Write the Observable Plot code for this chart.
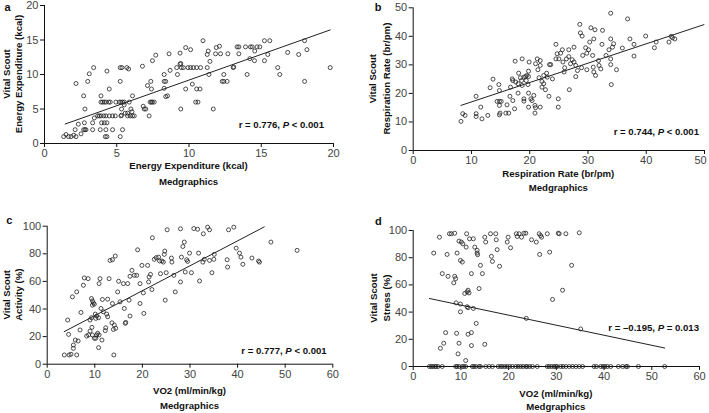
<!DOCTYPE html>
<html>
<head>
<meta charset="utf-8">
<script src="https://cdn.jsdelivr.net/npm/d3@7"></script>
<script src="https://cdn.jsdelivr.net/npm/@observablehq/plot@0.6"></script>
<style>
  body { margin: 0; background: #fff; }
  #wrap { position: relative; width: 709px; height: 413px; overflow: hidden; background: #fff; }
  #wrap svg { position: absolute; overflow: visible; }
  #wrap g[aria-label$="tick label"] { fill: #444; }
</style>
</head>
<body>
<div id="wrap"></div>
<script>
// ---------- DATA ----------
// Panel a: Energy Expenditure (kcal) — Medgraphics (x) vs Vital Scout (y)
const energyPoints = [
  [1.33,1],[1.49,1.3],[1.66,1],[1.84,1],[2.02,1.2],[2.18,1],[2.53,1.4],[4.21,1],[4.32,1],[5.24,1],
  [2.12,2],[2.71,2],[2.8,2],[2.87,2],[3.33,2],[3.86,2],[4.25,2],[4.71,2],[5.4,2],
  [2.34,2.8],[2.76,3],[3.33,3],[3.95,3],[4.14,3],[4.32,3],
  [3.45,3.7],[3.68,4],[3.79,4],[3.91,4],[4.09,4],[4.25,4],[4.48,4],[4.71,4],[4.9,4],[5.29,4],[5.75,4],[5.93,4],[6.09,4],[6.21,4],[7.24,4],[5.33,4.1],[5.59,4.4],[5.75,4.4],[6.05,4.6],
  [2.8,5],[5.33,5],[5.98,5],[6.9,5],[7.01,5],[9.43,5],[11.68,5],
  [3.91,6],[4.02,6],[4.14,6],[4.25,6],[4.44,6],[4.55,6],[4.94,6],[5.17,6],[5.29,6],[5.4,6],[5.52,6],[5.86,6],[7.31,6],[7.4,6],[7.47,6],[7.59,6],[10.46,6],[10.62,6],[5.52,5.6],[6.83,5.4],
  [2.71,6.9],[3.91,6.9],[6.09,6.9],[8.39,6.8],[8.51,6.9],
  [4.48,7.9],[7.13,8.4],[7.4,7.9],[8.28,8],[9.77,7.9],[10.23,8.6],[10.53,7.9],[10.76,7.9],
  [2.18,8.7],[2.99,9],[5.24,9],[7.36,9],[8.28,9],[8.39,9],[12.3,9],[12.41,9],[12.64,9],[18.0,9],
  [3.1,10.1],[8.28,10],[9.2,10],[11.38,10],[12.41,10],[14.02,10],[16.28,10],
  [3.4,11],[4.32,10.5],[5.24,11],[5.36,11],[5.7,11],[5.82,10.8],[6.78,11.2],[8.69,10.6],[9.15,11],[9.38,11.5],[9.47,11],[9.61,11],[9.93,11],[10.11,11],[10.3,11],[10.53,11],[10.8,11],[11.26,11],[13.06,11],[13.1,11.1],[16.14,11],[19.77,11],
  [7.47,12],[9.43,11.6],[11.45,11.9],[14.21,12.3],[14.53,12],[15.22,12],
  [7.7,12.8],[8.62,13],[9.38,13.1],[11.26,12.9],[11.33,13.4],[11.84,13],[12.18,13],[12.69,13],[13.45,13],[14.55,13.4],[15.45,12.9],[16.83,13.2],[17.59,12.9],[18.16,13.6],
  [9.77,13.9],[10.11,13.6],[11.89,13.9],[12.11,14.1],[13.33,14],[13.45,14],[13.91,14],[14.25,14],[14.37,14],[14.71,14],[14.9,14],
  [10.97,14.9],[15.22,14.9],[15.59,14.9],[18.0,14.9]
];
const energyFitX = [1.43, 19.77];
const energyFitY = [2.82, 16.46];
const energyTicks = [0, 5, 10, 15, 20];

// Panel b: Respiration Rate (br/pm)
const respPoints = [
  [8.2,10.2],[8.5,12.9],[8.9,12.3],[10.8,19.0],[10.8,12.9],[10.8,11.9],[11.6,15.2],[11.8,11.1],[12.8,12.3],[13.2,22.0],
  [13.7,25.0],[14.7,23.1],[14.8,21.0],[14.4,17.2],[14.8,17.2],[15.1,17.2],[14.8,15.8],[14.8,12.5],[14.9,13.1],[15.9,13.1],
  [16.4,13.1],[16.1,16.0],[16.7,22.2],[16.6,19.0],[17.0,25.1],[17.1,24.5],[17.1,17.5],[17.4,14.6],[17.5,31.3],[17.6,24.0],
  [18.0,23.4],[18.0,20.1],[18.1,27.1],[18.4,25.5],[18.6,24.5],[18.7,22.8],[18.7,32.1],[19.0,18.1],[19.0,17.3],[19.0,25.7],
  [19.3,25.9],[19.5,26.3],[19.8,25.9],[19.4,24.5],[19.7,23.1],[19.8,27.8],[19.9,31.0],[19.8,20.1],[19.8,15.2],[20.2,18.1],
  [20.4,17.5],[20.7,19.3],[20.9,15.8],[21.0,15.0],[20.9,13.1],[21.0,30.4],[21.3,32.1],[21.4,28.3],[21.6,25.5],[21.8,31.5],
  [21.8,29.8],[21.8,15.2],[22.1,24.2],[22.1,22.2],[22.4,26.3],[22.4,23.4],[22.7,21.3],[22.9,27.1],[23.0,25.7],[23.4,30.1],
  [23.6,30.1],[23.3,19.0],[23.9,25.1],[24.5,37.2],[24.5,32.1],[24.7,33.9],[24.9,18.1],[24.9,15.2],[25.0,32.1],[25.3,34.1],
  [25.6,35.3],[25.7,31.0],[25.9,27.5],[26.0,29.0],[26.3,32.1],[26.7,32.9],[26.8,21.3],[26.7,35.3],[27.0,30.4],[27.3,31.8],
  [27.6,31.0],[27.9,29.8],[27.6,36.2],[27.9,25.9],[28.2,28.0],[28.6,44.2],[28.7,41.2],[29.0,40.1],[28.9,29.0],[29.1,33.3],
  [29.6,36.0],[29.8,34.1],[29.8,28.3],[30.1,35.3],[30.3,38.0],[30.5,43.0],[30.8,33.3],[30.9,29.2],[31.0,39.1],[31.0,27.5],
  [31.3,26.3],[31.2,42.3],[31.8,31.5],[31.9,29.8],[32.2,28.6],[32.4,37.2],[32.5,42.1],[33.1,33.3],[33.6,35.3],[33.9,48.1],
  [33.9,39.1],[33.9,32.1],[33.9,30.1],[34.0,23.1],[34.2,36.2],[34.4,37.4],[34.9,28.3],[35.9,35.9],[36.8,46.1],[37.2,39.1],
  [37.9,37.2],[37.9,33.1],[39.9,40.1],[41.4,36.0],[41.7,38.0],[43.9,38.0],[44.3,40.0],[44.5,39.5],[44.9,39.1]
];
const respFitX = [8.2, 49.9];
const respFitY = [15.8, 44.1];
const respTicks = [0, 10, 20, 30, 40, 50];

// Panel c: VO2 (ml/min/kg) vs Activity (%)
const activityPoints = [
  [3.6,6.7],[4.6,6.7],[5.0,7.2],[6.2,6.7],[4.5,21.6],[4.3,32.0],[5.3,48.8],[6.2,52.4],[6.9,24.8],[6.5,16.8],
  [5.9,17.5],[5.5,13.9],[5.5,11.5],[7.6,57.2],[7.8,62.5],[8.6,62.0],[7.1,37.5],[8.3,20.4],[8.7,21.2],[9.0,24.0],
  [9.3,47.6],[9.5,45.9],[9.7,44.5],[9.9,43.5],[9.5,42.8],[9.0,32.0],[9.3,33.7],[9.4,26.7],[9.5,21.2],[9.9,18.8],
  [10.2,18.8],[10.4,21.2],[10.1,36.3],[10.2,33.2],[10.4,34.9],[10.8,33.7],[10.6,22.4],[10.9,21.2],[10.8,12.0],[10.9,58.4],
  [11.1,62.0],[11.3,40.4],[11.5,17.5],[11.6,46.9],[11.8,38.0],[12.2,24.3],[12.3,26.4],[12.5,36.3],[12.7,34.4],[12.7,47.1],
  [13.0,62.0],[13.2,75.2],[13.7,75.7],[14.3,78.4],[13.6,30.0],[13.7,44.0],[13.9,25.2],[14.1,28.4],[14.0,6.7],[14.4,26.0],
  [14.8,52.4],[15.0,60.1],[15.3,45.2],[16.0,58.4],[16.2,40.4],[16.4,29.6],[16.5,30.3],[16.9,58.4],[17.4,63.7],[17.2,46.4],
  [17.4,34.9],[17.8,68.0],[18.3,64.4],[18.8,64.4],[19.0,82.9],[19.5,58.4],[19.5,44.0],[19.9,71.6],[20.2,51.7],[20.3,36.8],
  [21.1,71.6],[21.3,59.6],[21.4,63.2],[21.7,65.1],[22.0,54.1],[22.1,91.6],[22.5,76.0],[22.9,77.2],[23.4,77.6],[23.6,74.8],
  [23.8,65.6],[24.1,74.8],[24.4,74.0],[24.6,79.6],[24.7,82.0],[24.8,46.4],[25.0,66.3],[25.2,97.4],[26.1,76.9],[26.2,74.0],
  [26.6,64.4],[26.9,52.4],[28.0,59.6],[28.0,98.1],[28.2,77.6],[28.5,85.3],[28.8,88.5],[29.0,66.8],[29.3,75.7],[29.5,74.5],
  [29.9,80.5],[30.3,66.3],[30.8,98.3],[31.6,97.8],[31.8,80.5],[32.0,60.3],[32.7,74.0],[32.8,94.5],[33.0,76.0],[33.7,99.3],
  [34.1,97.4],[34.1,75.2],[34.6,66.3],[35.0,76.0],[35.1,79.6],[37.8,75.7],[37.9,70.4],[38.1,97.4],[39.2,99.3],[39.7,84.1],
  [40.4,80.5],[40.7,77.6],[41.1,72.4],[43.0,76.9],[44.4,74.8],[44.6,74.0],[47.0,88.5],[52.5,82.5]
];
const activityFitX = [3.57, 45.6];
const activityFitY = [23.6, 99.5];

// Panel d: VO2 (ml/min/kg) vs Stress (%)
const stressPoints = [
  [4.3,83.4],[5.5,95.1],[7.1,82.4],[7.6,97.6],[8.0,97.6],[8.7,98.0],[9.2,83.4],[9.6,92.2],[10.1,91.5],[10.4,90.2],
  [11.2,97.6],[11.1,87.8],[11.8,93.9],[12.6,93.9],[12.9,87.8],[13.4,85.4],[13.4,83.4],[13.5,82.2],[9.9,78.0],[10.3,76.8],
  [6.1,68.3],[7.3,66.3],[8.7,66.3],[8.9,64.6],[8.5,61.5],[12.2,68.3],[14.1,74.4],[14.5,68.3],[15.0,95.1],[15.2,91.5],
  [16.2,97.6],[16.4,81.0],[16.6,77.3],[17.3,97.6],[17.4,93.2],[17.6,85.9],[18.1,73.7],[19.7,91.5],[19.9,95.1],[20.4,87.3],
  [21.6,97.6],[21.8,95.6],[22.2,97.6],[22.7,95.1],[23.2,98.0],[23.6,98.0],[24.8,93.2],[25.8,91.5],[26.4,97.6],[26.5,82.4],
  [26.7,96.3],[26.9,95.1],[28.1,97.6],[28.6,84.1],[30.4,98.0],[30.6,97.6],[32.0,97.6],[33.2,74.4],[34.8,98.3],
  [10.8,53.7],[11.3,54.9],[11.5,56.1],[11.7,54.1],[13.8,57.3],[31.3,56.1],[29.2,49.3],
  [9.0,46.8],[9.9,45.9],[9.9,40.2],[11.3,43.9],[11.5,43.2],[12.6,42.7],[23.7,35.4],[35.1,27.6],[13.2,31.7],[6.8,24.9],
  [9.1,24.4],[11.5,23.7],[12.2,24.9],[6.4,17.1],[5.7,13.4],[9.6,17.1],[12.2,15.4],[15.0,16.3],[9.4,9.3],[11.0,4.4],
  [3.4,0],[3.8,0],[4.1,0],[4.5,0],[4.8,0],[5.2,0],[6.1,0],[8.9,0],[9.2,0],[9.6,0],[10.3,0],[10.6,0],[11.0,0],[12.4,0],
  [12.7,0],[13.1,0],[13.8,0],[14.1,0],[15.2,0],[15.9,0],[16.6,0],[17.8,0],[18.3,0],[18.7,0],[19.2,0],[19.7,0],[20.2,0],
  [20.8,0],[21.5,0],[22.0,0],[22.5,0],[23.0,0],[23.6,0],[23.9,0],[24.4,0],[25.0,0],[26.0,0],[28.1,0],[28.5,0],[29.0,0],
  [29.5,0],[29.9,0],[30.2,0],[30.9,0],[31.4,0],[32.0,0],[32.7,0],[33.4,0],[34.1,0],[34.8,0],[35.5,0],[37.9,0],[38.4,0],
  [39.3,0],[39.8,0],[40.2,0],[40.7,0],[41.4,0],[43.0,0],[43.9,0],[44.6,0],[44.9,0],[47.2,0],[52.7,0]
];
const stressFitX = [3.4, 52.7];
const stressFitY = [50.0, 13.6];

const vo2Ticks = [0, 10, 20, 30, 40, 50, 60];
const percentTicks = [0, 20, 40, 60, 80, 100];

// Text
const letters = ["a", "b", "c", "d"];
const yTitles = [
  ["Vital Scout", "Energy Expenditure (kcal)"],
  ["Vital Scout", "Respiration Rate (br/pm)"],
  ["Vital Scout", "Activity (%)"],
  ["Vital Scout", "Stress (%)"]
];
const xTitles = [
  ["Energy Expenditure (kcal)", "Medgraphics"],
  ["Respiration Rate (br/pm)", "Medgraphics"],
  ["VO2 (ml/min/kg)", "Medgraphics"],
  ["VO2 (ml/min/kg)", "Medgraphics"]
];
const stats = [
  ["r = 0.776, ", "P", " < 0.001"],
  ["r = 0.744, ", "P", " < 0.001"],
  ["r = 0.777, ", "P", " < 0.001"],
  ["r = \u20130.195, ", "P", " = 0.013"]
];

// ---------- DRAWING ----------
const FONT = '"Liberation Sans", Arial, Helvetica, sans-serif';
const wrap = document.getElementById("wrap");

function panel(cfg) {
  const pts = cfg.points.map(([x, y]) => ({x, y}));
  const fit = cfg.fitX.map((x, i) => ({x, y: cfg.fitY[i]}));
  const xd = [cfg.xTicks[0], cfg.xTicks[cfg.xTicks.length - 1]];
  const yd = [cfg.yTicks[0], cfg.yTicks[cfg.yTicks.length - 1]];
  const chart = Plot.plot({
    width: cfg.width, height: cfg.height,
    marginLeft: cfg.m[0], marginRight: cfg.m[1], marginTop: cfg.m[2], marginBottom: cfg.m[3],
    x: {domain: xd},
    y: {domain: yd},
    style: {fontFamily: FONT, fontSize: "11px", color: "#111", background: "transparent", overflow: "visible"},
    marks: [
      Plot.ruleX([xd[0]], {stroke: "#111", strokeWidth: 1}),
      Plot.ruleY([yd[0]], {stroke: "#111", strokeWidth: 1}),
      Plot.axisX({ticks: cfg.xTicks, tickSize: 4, tickPadding: 2, label: null, tickFormat: d => String(d)}),
      Plot.axisY({ticks: cfg.yTicks, tickSize: 4, tickPadding: 2, label: null, tickFormat: d => String(d)}),
      Plot.dot(pts, {x: "x", y: "y", r: 2, stroke: "#222", strokeWidth: 0.8, fill: "none"}),
      Plot.line(fit, {x: "x", y: "y", stroke: "#222", strokeWidth: 1})
    ]
  });
  chart.style.left = cfg.left + "px";
  chart.style.top = cfg.top + "px";
  const svg = d3.select(chart);
  if (cfg.lastXLabelDx) {
    const labels = svg.selectAll('g[aria-label="x-axis tick label"] text').nodes();
    if (labels.length) d3.select(labels[labels.length - 1]).attr("dx", cfg.lastXLabelDx);
  }
  const fx0 = cfg.m[0], fx1 = cfg.width - cfg.m[1];
  const fy0 = cfg.m[2], fy1 = cfg.height - cfg.m[3];
  const cx = (fx0 + fx1) / 2, cy = (fy0 + fy1) / 2;
  const bold = s => s.attr("font-family", FONT).attr("font-weight", "bold").attr("fill", "#111");

  bold(svg.append("text")).attr("x", cfg.letterPos[0]).attr("y", cfg.letterPos[1]).attr("dy", "0.35em")
    .attr("text-anchor", "middle").attr("font-size", 11).text(cfg.letter);

  cfg.yTitle.forEach((t, i) => {
    bold(svg.append("text")).attr("transform", `translate(${cfg.yTitleX[i]},${cy}) rotate(-90)`)
      .attr("dy", "0.35em").attr("text-anchor", "middle").attr("font-size", 9.6).text(t);
  });
  cfg.xTitle.forEach((t, i) => {
    bold(svg.append("text")).attr("x", cx).attr("y", cfg.xTitleY[i]).attr("dy", "0.35em")
      .attr("text-anchor", "middle").attr("font-size", 9.6).text(t);
  });
  const st = bold(svg.append("text")).attr("x", cfg.statPos[0]).attr("y", cfg.statPos[1]).attr("dy", "0.35em")
    .attr("text-anchor", "end").attr("font-size", 9.6);
  st.append("tspan").text(cfg.stat[0]);
  st.append("tspan").attr("font-style", "italic").text(cfg.stat[1]);
  st.append("tspan").text(cfg.stat[2]);
  wrap.appendChild(chart);
}

panel({
  left: 0, top: 0, width: 350, height: 200, m: [44, 17, 5, 57],
  points: energyPoints, fitX: energyFitX, fitY: energyFitY,
  xTicks: energyTicks, yTicks: energyTicks,
  letter: letters[0], letterPos: [7.5, 7], yTitle: yTitles[0], yTitleX: [7, 18.5],
  xTitle: xTitles[0], xTitleY: [166, 182], stat: stats[0], statPos: [324, 125]
});
panel({
  left: 355, top: 0, width: 354, height: 200, m: [57.7, 5, 7.3, 50],
  points: respPoints, fitX: respFitX, fitY: respFitY,
  xTicks: respTicks, yTicks: respTicks, lastXLabelDx: -4,
  letter: letters[1], letterPos: [23, 7], yTitle: yTitles[1], yTitleX: [18, 31.7],
  xTitle: xTitles[1], xTitleY: [174, 188], stat: stats[1], statPos: [344, 131.7]
});
panel({
  left: 0, top: 205, width: 350, height: 208, m: [46.7, 17.7, 20.7, 49.3],
  points: activityPoints, fitX: activityFitX, fitY: activityFitY,
  xTicks: vo2Ticks, yTicks: percentTicks,
  letter: letters[2], letterPos: [9.3, 15], yTitle: yTitles[2], yTitleX: [6.7, 19],
  xTitle: xTitles[2], xTitleY: [185.7, 200.7], stat: stats[2], statPos: [326.7, 145.7]
});
panel({
  left: 355, top: 205, width: 354, height: 208, m: [57.7, 10, 25, 47],
  points: stressPoints, fitX: stressFitX, fitY: stressFitY,
  xTicks: vo2Ticks, yTicks: percentTicks,
  letter: letters[3], letterPos: [23.3, 15.7], yTitle: yTitles[3], yTitleX: [18.3, 31.7],
  xTitle: xTitles[3], xTitleY: [188.3, 201.7], stat: stats[3], statPos: [344, 122.7]
});
</script>
</body>
</html>
